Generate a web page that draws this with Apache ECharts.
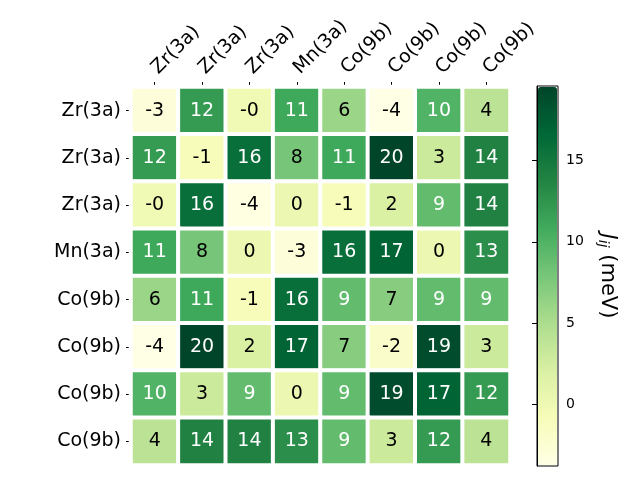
<!DOCTYPE html>
<html>
<head>
<meta charset="utf-8">
<script src="https://cdn.jsdelivr.net/npm/echarts@6/dist/echarts.min.js"></script>
<style>html,body{margin:0;padding:0;background:#fff}#c{width:640px;height:480px}</style>
</head>
<body>
<div id="c"></div>
<script>
const colLabels = ['Zr(3a)','Zr(3a)','Zr(3a)','Mn(3a)','Co(9b)','Co(9b)','Co(9b)','Co(9b)'];
const rowLabels = ['Zr(3a)','Zr(3a)','Zr(3a)','Mn(3a)','Co(9b)','Co(9b)','Co(9b)','Co(9b)'];
const row0 = [-3, 12, -0.3, 11, 6, -3.77, 10, 4];
const row1 = [12, -1, 16, 8, 11, 19.57, 3, 14];
const row2 = [-0.3, 16, -3.6, 0.2, -1, 2, 9, 14];
const row3 = [11, 8, 0.2, -3, 16, 17, 0.2, 13];
const row4 = [6, 11, -1, 16, 9, 7, 9, 9];
const row5 = [-3.77, 19.57, 2, 17, 7, -2, 19, 3];
const row6 = [10, 3, 9, 0.2, 9, 19, 17, 12];
const row7 = [4, 14, 14, 13, 9, 3, 12, 4];
const cbTicks = [0, 5, 10, 15];
const vMin = -3.77, vMax = 19.57;

const rows = [row0,row1,row2,row3,row4,row5,row6,row7];
const data = [];
rows.forEach((r, i) => r.forEach((v, j) => data.push([j, i, v])));

const FONT = 'DejaVu Sans';
const chart = echarts.init(document.getElementById('c'), null, {renderer: 'canvas'});
chart.setOption({
  animation: false,
  backgroundColor: '#fff',
  textStyle: {fontFamily: FONT},
  grid: [
    {left: 131, top: 87, width: 379, height: 378},
    {left: 537, top: 86, width: 21, height: 380, show: true, borderColor: '#000', borderWidth: 1, backgroundColor: 'transparent'}
  ],
  xAxis: [
    {type: 'category', gridIndex: 0, data: colLabels, position: 'top',
     axisLine: {show: false}, axisTick: {show: true, alignWithLabel: true, length: 5, lineStyle: {color: '#000'}},
     axisLabel: {rotate: -45, interval: 0, fontSize: 19, color: '#000', fontFamily: FONT, margin: 16},
     splitLine: {show: false}},
    {type: 'value', gridIndex: 1, min: 0, max: 1, show: false}
  ],
  yAxis: [
    {type: 'category', gridIndex: 0, data: rowLabels, inverse: true,
     axisLine: {show: false}, axisTick: {show: true, alignWithLabel: true, length: 5, lineStyle: {color: '#000'}},
     axisLabel: {interval: 0, fontSize: 19, color: '#000', fontFamily: FONT, margin: 10},
     splitLine: {show: false}},
    {type: 'value', gridIndex: 1, min: vMin, max: vMax, position: 'right', z: 20,
     axisLine: {show: true, lineStyle: {color: '#000', width: 1}}, splitLine: {show: false},
     axisTick: {show: true, inside: true, length: 5, customValues: cbTicks, lineStyle: {color: '#000', width: 1}},
     axisLabel: {show: true, inside: false, customValues: cbTicks, fontSize: 14, color: '#000', fontFamily: FONT, margin: 8},
     name: '{i|J}{s|ij}{n| (meV)}', nameLocation: 'middle', nameRotate: -90, nameGap: 38,
     nameTextStyle: {color: '#000', fontFamily: FONT, rich: {
       i: {fontSize: 21, fontStyle: 'italic', fontFamily: FONT, color: '#000'},
       s: {fontSize: 14, fontStyle: 'italic', fontFamily: FONT, color: '#000', verticalAlign: 'bottom', padding: [8, 0, 0, 0]},
       n: {fontSize: 21, fontFamily: FONT, color: '#000'}
     }}}
  ],
  visualMap: {
    type: 'continuous', seriesIndex: 0, min: vMin, max: vMax, show: true, z: 1,
    calculable: false, orient: 'vertical', left: 538, top: 87, padding: 0,
    itemWidth: 19, itemHeight: 378, text: null, showLabel: false,
    inRange: {color: ['#ffffe5','#f7fcb9','#d9f0a3','#addd8e','#78c679','#41ab5d','#238443','#006837','#004529']}
  },
  series: [{
    type: 'heatmap', xAxisIndex: 0, yAxisIndex: 0, data: data,
    itemStyle: {borderColor: '#fff', borderWidth: 4},
    label: {show: true, fontFamily: FONT,
      formatter: p => {
        const v = p.value[2];
        const t = v.toFixed(0);
        return v > 8.5 ? '{w|' + t + '}' : '{b|' + t + '}';
      },
      rich: {w: {color: '#fff', fontSize: 19, fontFamily: FONT}, b: {color: '#000', fontSize: 19, fontFamily: FONT}}
    },
    emphasis: {disabled: true}
  }]
});
</script>
</body>
</html>
